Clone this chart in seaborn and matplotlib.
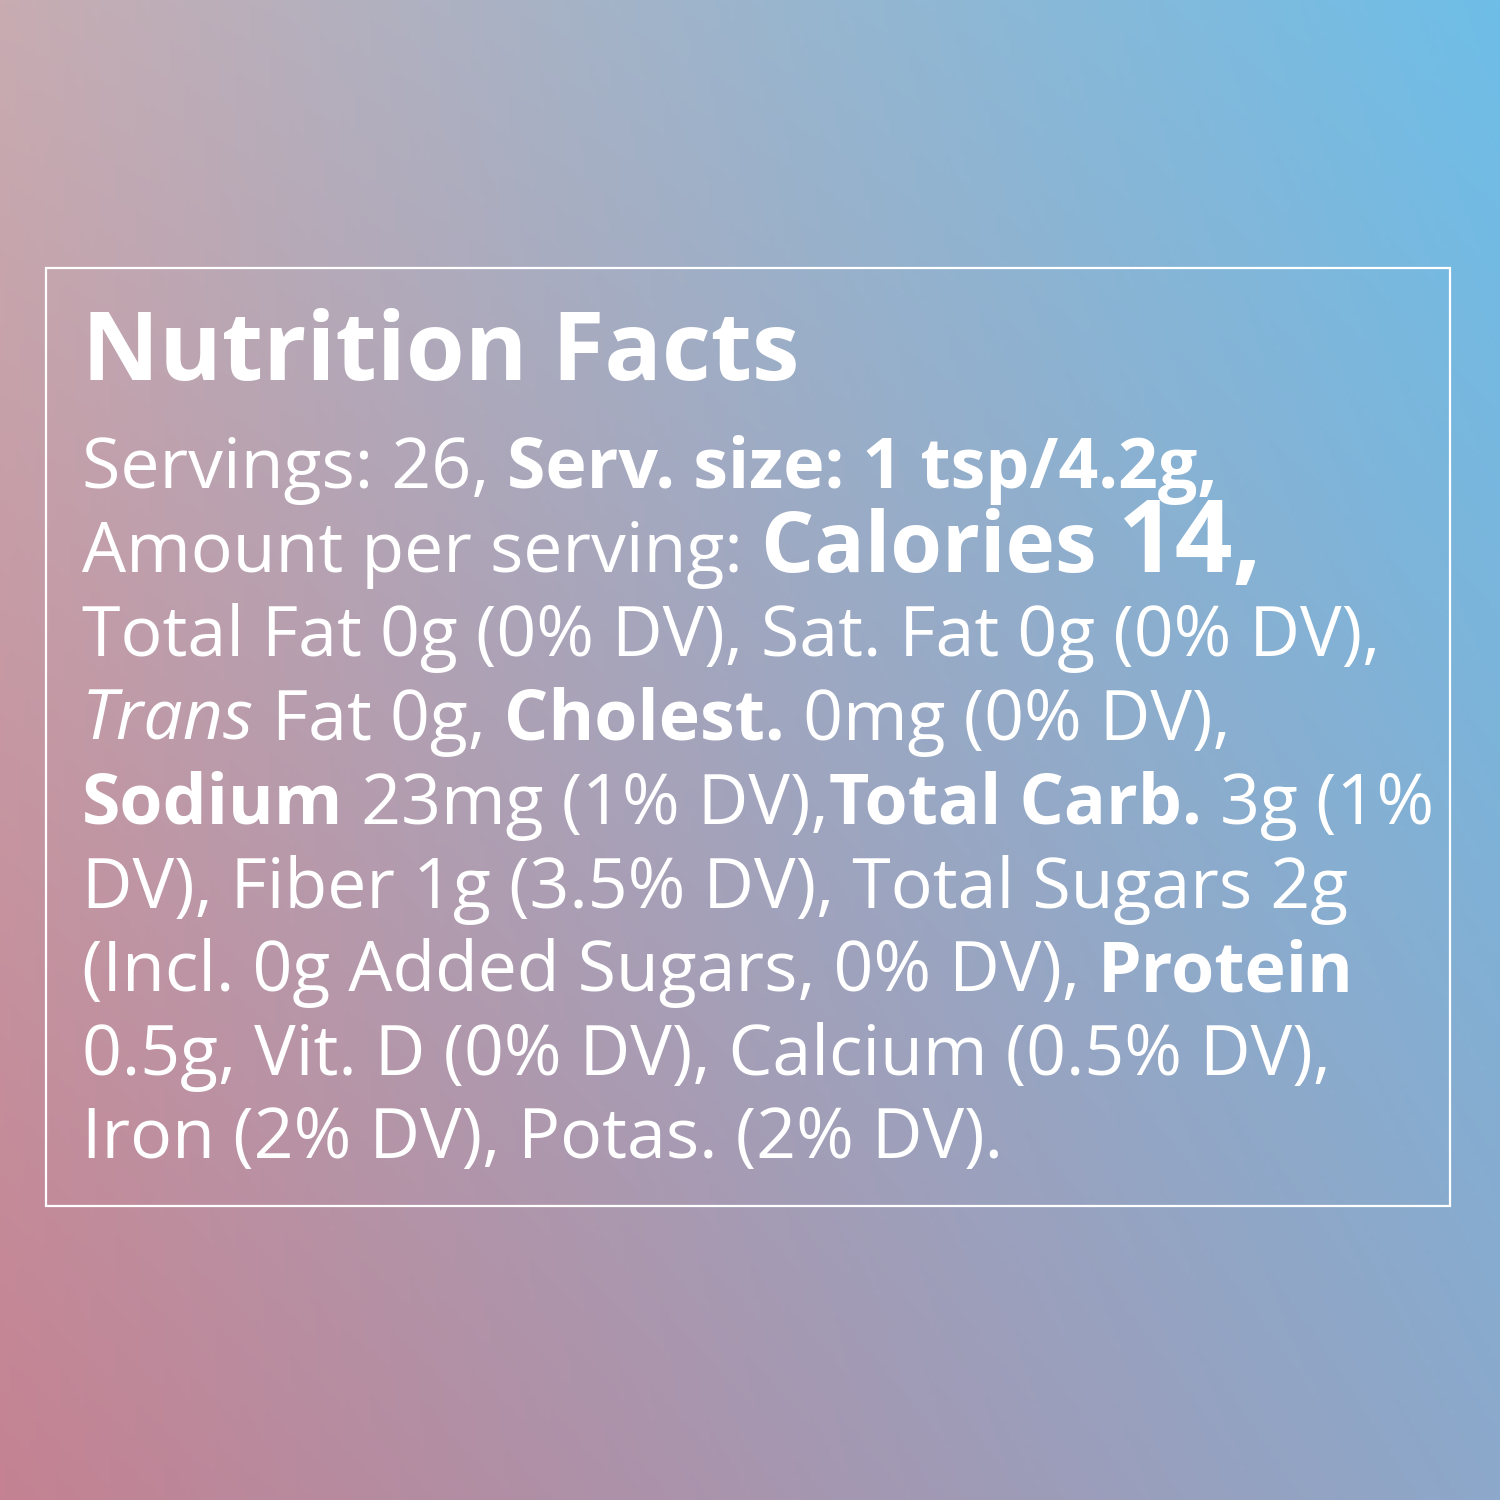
import numpy as np
import matplotlib
matplotlib.use("Agg")
import matplotlib.pyplot as plt
import seaborn as sns

sns.set_theme(style="white")
plt.rcParams['font.family'] = ['Open Sans', 'Lato', 'DejaVu Sans']

title = "Nutrition Facts"
lines = [
    [("Servings: 26, ", "r"), ("Serv. size: 1 tsp/4.2g,", "b")],
    [("Amount per serving: ", "r"), ("Calories ", "c"), ("14,", "n")],
    [("Total Fat 0g (0% DV), Sat. Fat 0g (0% DV),", "r")],
    [("Trans", "i"), (" Fat 0g, ", "r"), ("Cholest.", "b"), (" 0mg (0% DV),", "r")],
    [("Sodium", "b"), (" 23mg (1% DV),", "r"), ("Total Carb.", "b"), (" 3g (1%", "r")],
    [("DV), Fiber 1g (3.5% DV), Total Sugars 2g", "r")],
    [("(Incl. 0g Added Sugars, 0% DV), ", "r"), ("Protein", "b")],
    [("0.5g, Vit. D (0% DV), Calcium (0.5% DV),", "r")],
    [("Iron (2% DV), Potas. (2% DV).", "r")],
]
baselines = [488, 572, 656, 740, 824, 908, 991, 1075, 1158]

W = H = 1500
fig = plt.figure(figsize=(15, 15), dpi=100)
ax = fig.add_axes([0, 0, 1, 1])
ax.set_xlim(0, W); ax.set_ylim(H, 0); ax.axis("off")

tl = np.array([200, 172, 178]); tr = np.array([110, 190, 232])
bl = np.array([196, 130, 146]); br = np.array([140, 168, 202])
u = np.linspace(0, 1, 300)[None, :, None]; v = np.linspace(0, 1, 300)[:, None, None]
img = (tl*(1-u)*(1-v) + tr*u*(1-v) + bl*(1-u)*v + br*u*v) / 255
ax.imshow(img, extent=[0, W, H, 0], aspect="auto", zorder=0)
ax.add_patch(plt.Rectangle((46, 268), 1404, 938, fill=False, ec="white", lw=1.6, zorder=1))

fig.canvas.draw()
r = fig.canvas.get_renderer()

def fit(txt, target, **kw):
    t = ax.text(0, 0, txt, fontsize=50, **kw)
    w = t.get_window_extent(renderer=r).width
    t.remove()
    return 50 * target / w

BODY = fit(lines[2][0][0], 1298)
TS = fit(title, 718, fontweight="bold")
ax.text(82, 380, title, fontsize=TS, fontweight="bold", color="white", va="baseline")

styles = {"r": dict(fontsize=BODY, fontweight="normal"),
          "b": dict(fontsize=BODY, fontweight="bold"),
          "i": dict(fontsize=BODY, fontstyle="italic"),
          "c": dict(fontsize=BODY*1.2, fontweight="bold"),
          "n": dict(fontsize=BODY*1.45, fontweight="bold")}
for segs, yb in zip(lines, baselines):
    x = 82
    for txt, st in segs:
        t = ax.text(x, yb, txt, color="white", va="baseline", **styles[st])
        x += t.get_window_extent(renderer=r).width
fig.savefig("out.png", dpi=100)
